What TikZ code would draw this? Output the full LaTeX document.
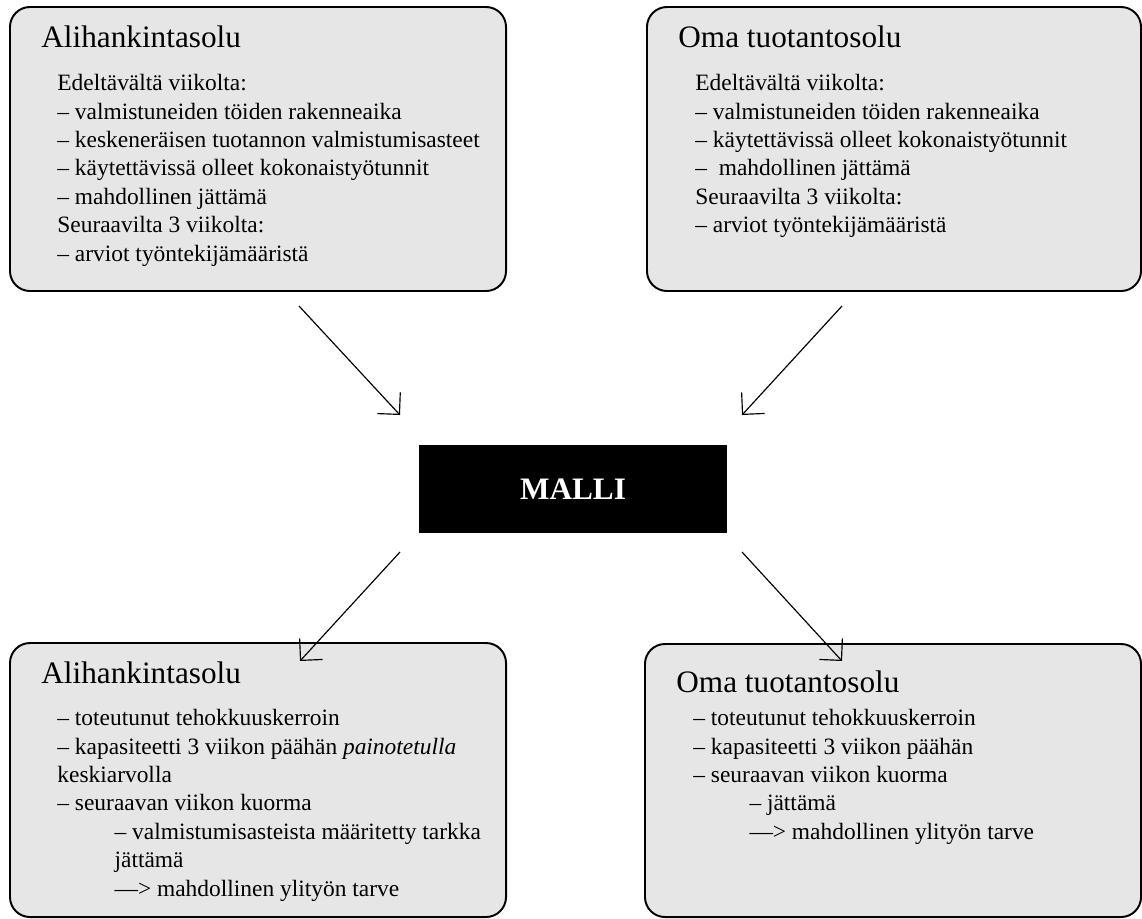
\documentclass[tikz,border=0pt]{standalone}
\usepackage{fontspec}
\setmainfont{Liberation Serif}
\usetikzlibrary{arrows.meta,positioning}
\definecolor{cellgrey}{RGB}{230,230,230}
\tikzset{
  cell/.style={draw=black,fill=cellgrey,rounded corners=3.6mm,line width=1pt,inner sep=0pt},
  celltitle/.style={anchor=base west,inner sep=0pt,font=\fontsize{16}{19}\selectfont},
  celltxt/.style={anchor=north west,inner sep=0pt,align=left,font=\fontsize{12}{14.55}\selectfont},
  model/.style={fill=black,text=white,inner sep=0pt,font=\fontsize{16}{19}\selectfont\bfseries},
  link/.style={-{Straight Barb[length=2.8mm,width=5.6mm]},line width=0.6pt},
}

\begin{document}
\begin{tikzpicture}[x=0.18mm,y=-0.18mm]
  \useasboundingbox (0,0) rectangle (1142,918);

  % input cells
  \node[cell,minimum width=89.28mm,minimum height=51.12mm] (subin) at (258,149) {};
  \node[cell,minimum width=88.92mm,minimum height=51.12mm] (ownin) at (894,149) {};
  \node[celltitle] (subintitle) at (41,47) {Alihankintasolu};
  \node[celltitle] (ownintitle) at (678,47) {Oma tuotantosolu};
  \node[celltxt] (subintxt) at (57,74) {Edeltävältä viikolta:\\
    – valmistuneiden töiden rakenneaika\\
    – keskeneräisen tuotannon valmistumisasteet\\
    – käytettävissä olleet kokonaistyötunnit\\
    – mahdollinen jättämä\\
    Seuraavilta 3 viikolta:\\
    – arviot työntekijämääristä};
  \node[celltxt] (ownintxt) at (695,74) {Edeltävältä viikolta:\\
    – valmistuneiden töiden rakenneaika\\
    – käytettävissä olleet kokonaistyötunnit\\
    –\ \ mahdollinen jättämä\\
    Seuraavilta 3 viikolta:\\
    – arviot työntekijämääristä};

  % model
  \node[model,minimum width=55.44mm,minimum height=15.84mm] (malli) at (573,489) {MALLI};

  % output cells
  \node[cell,minimum width=89.28mm,minimum height=49.32mm] (subout) at (258,780) {};
  \node[cell,minimum width=89.28mm,minimum height=49.14mm] (ownout) at (893,780.5) {};
  \node[celltitle] (subouttitle) at (41,683) {Alihankintasolu};
  \node[celltitle] (ownouttitle) at (676,692) {Oma tuotantosolu};
  \node[celltxt] (subouttxt) at (57,709) {– toteutunut tehokkuuskerroin\\
    – kapasiteetti 3 viikon päähän \textit{painotetulla}\\
    keskiarvolla\\
    – seuraavan viikon kuorma\\
    \hspace*{10.3mm}– valmistumisasteista määritetty tarkka\\
    \hspace*{10.3mm}jättämä\\
    \hspace*{10.3mm}—> mahdollinen ylityön tarve};
  \node[celltxt] (ownouttxt) at (693,709) {– toteutunut tehokkuuskerroin\\
    – kapasiteetti 3 viikon päähän\\
    – seuraavan viikon kuorma\\
    \hspace*{10.1mm}– jättämä\\
    \hspace*{10.1mm}—> mahdollinen ylityön tarve};

  % arrows
  \coordinate (subinA) at (299,306);
  \coordinate (subinB) at (400,415);
  \coordinate (owninA) at (842,306);
  \coordinate (owninB) at (742,415);
  \coordinate (suboutA) at (400,552);
  \coordinate (suboutB) at (300,661);
  \coordinate (ownoutA) at (742,552);
  \coordinate (ownoutB) at (842,661);
  \draw[link] (subinA) -- (subinB);
  \draw[link] (owninA) -- (owninB);
  \draw[link] (suboutA) -- (suboutB);
  \draw[link] (ownoutA) -- (ownoutB);
\end{tikzpicture}
\end{document}
